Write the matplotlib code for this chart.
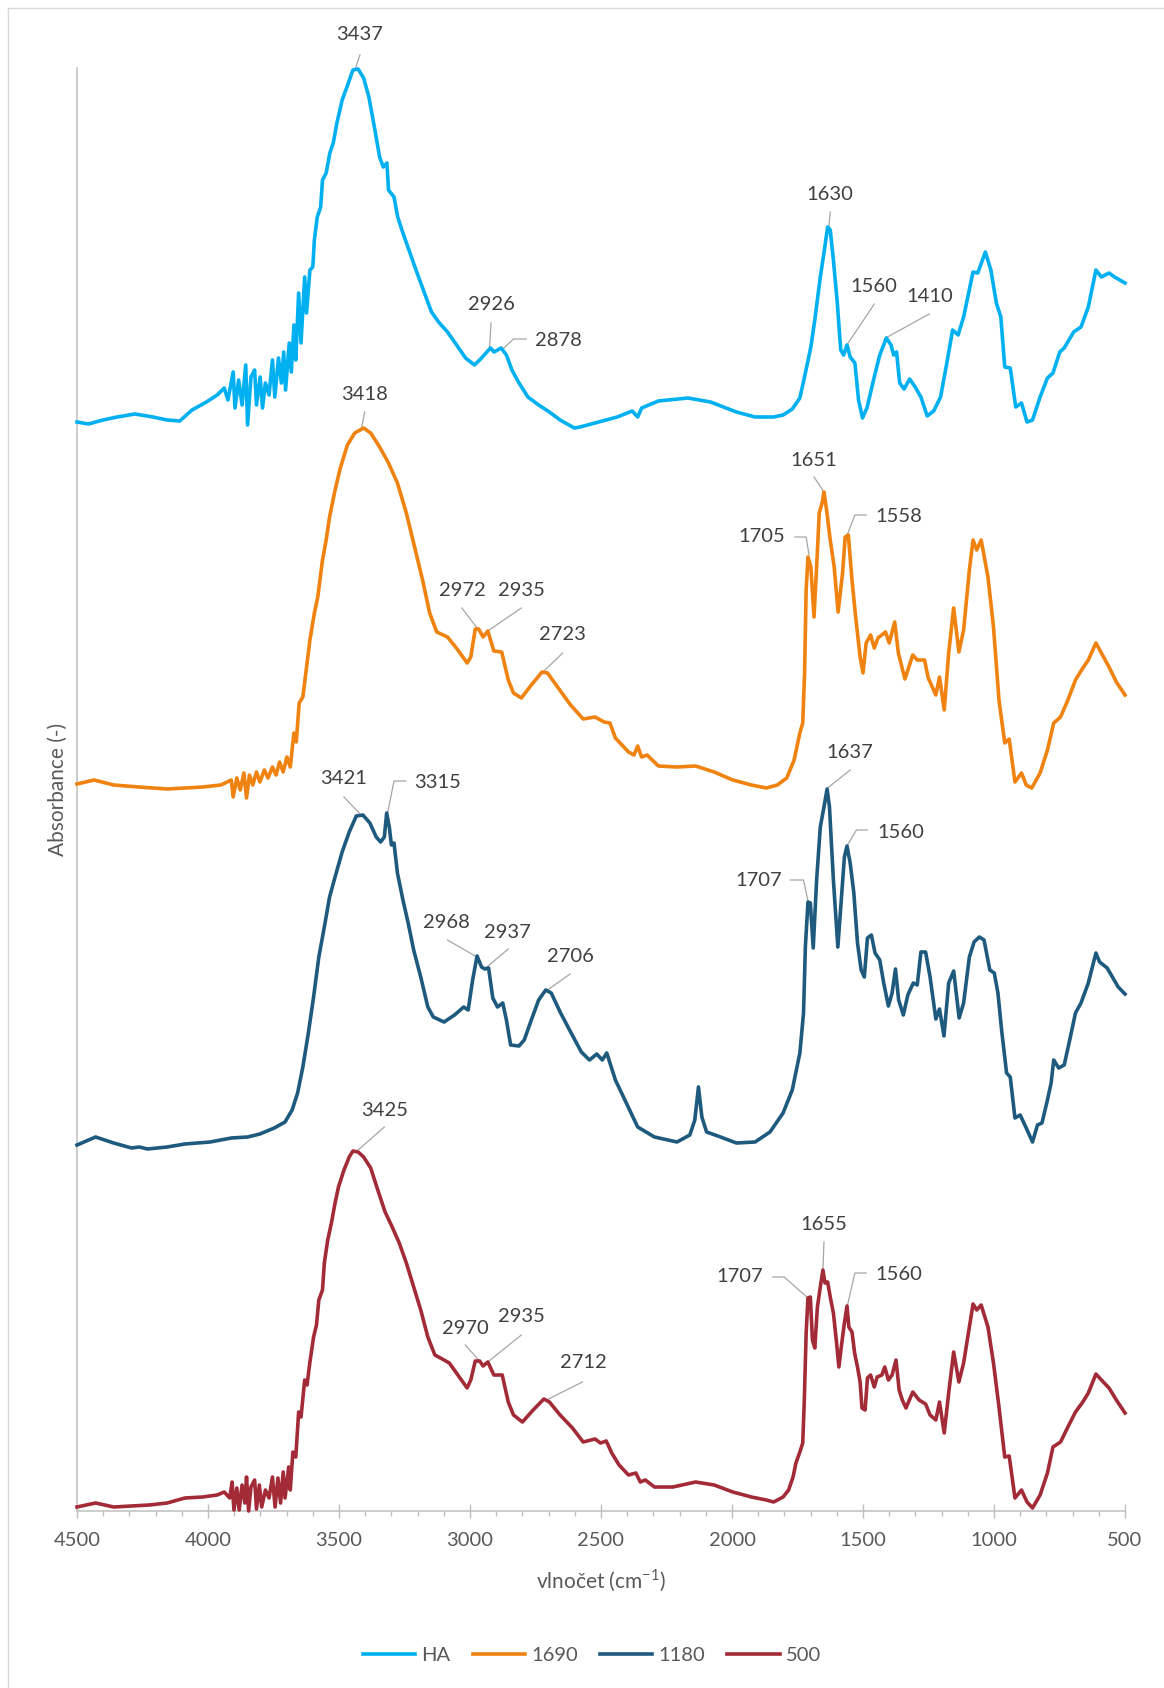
import matplotlib
matplotlib.use("Agg")
import matplotlib.pyplot as plt
from matplotlib.lines import Line2D
from matplotlib.ticker import MultipleLocator

plt.rcParams['font.family'] = ['Lato', 'DejaVu Sans']
plt.rcParams['mathtext.fontset'] = 'custom'
plt.rcParams['mathtext.rm'] = 'Lato'

# ---------------- data (wavenumber cm-1, offset absorbance a.u.) ----------------
series_names = ["HA", "1690", "1180", "500"]

ha_wn = [4500,4456,4401,4347,4279,4210,4156,4108,4061,4006,
         3965,3938,3924,3904,3897,3883,3870,3856,3849,3836,
         3822,3815,3801,3792,3781,3767,3754,3745,3731,3720,
         3711,3704,3690,3682,3672,3665,3654,3645,3631,3624,
         3611,3600,3594,3583,3570,3563,3549,3535,3522,3508,
         3488,3467,3447,3427,3406,3386,3365,3345,3331,3317,
         3311,3290,3276,3256,3229,3202,3174,3147,3120,3086,
         3051,3017,2983,2956,2922,2908,2881,2861,2840,2813,
         2779,2738,2697,2656,2602,
         2580,2509,2438,2381,2360,2345,2281,2168,2082,1983,
         1912,1841,1805,1770,1741,1720,1699,1684,1663,1649,
         1635,1625,1613,1599,1585,1574,1561,1549,1531,1517,
         1502,1485,1457,1436,1411,1393,1383,1372,1360,1343,
         1322,1301,1279,1255,1230,1204,1180,1158,1137,1116,
         1080,1062,1033,1012,991,974,959,938,917,895,
         874,853,824,796,775,749,732,696,668,640,
         611,590,561,540,500]
ha_abs = [1.089,1.087,1.091,1.094,1.097,1.094,1.091,1.090,1.101,1.109,
          1.116,1.123,1.111,1.139,1.103,1.131,1.106,1.146,1.086,1.134,
          1.141,1.106,1.134,1.103,1.128,1.116,1.151,1.114,1.153,1.128,
          1.159,1.121,1.168,1.139,1.186,1.151,1.218,1.168,1.234,1.198,
          1.241,1.244,1.271,1.294,1.304,1.331,1.338,1.358,1.368,1.388,
          1.411,1.426,1.441,1.442,1.433,1.414,1.384,1.354,1.344,1.348,
          1.321,1.314,1.294,1.278,1.258,1.238,1.218,1.199,1.189,1.179,
          1.166,1.153,1.146,1.153,1.163,1.159,1.163,1.156,1.141,1.128,
          1.114,1.106,1.099,1.091,1.083,
          1.084,1.089,1.094,1.100,1.094,1.103,1.110,1.113,1.109,1.099,
          1.094,1.094,1.096,1.102,1.113,1.138,1.164,1.191,1.234,1.258,
          1.284,1.281,1.251,1.211,1.161,1.156,1.166,1.154,1.148,1.111,
          1.093,1.103,1.134,1.156,1.173,1.166,1.156,1.159,1.128,1.122,
          1.132,1.124,1.114,1.095,1.100,1.114,1.148,1.181,1.176,1.194,
          1.239,1.238,1.259,1.241,1.208,1.194,1.144,1.143,1.104,1.108,
          1.089,1.091,1.114,1.133,1.138,1.159,1.163,1.179,1.184,1.204,
          1.241,1.234,1.238,1.234,1.228]

s1690_wn = [4500,4435,4360,4265,4156,4020,3951,3911,3904,3890,
            3877,3863,3853,3842,3829,3815,3802,3785,3771,3754,
            3740,3727,3713,3699,3686,3672,3663,3652,3638,3624,
            3611,3594,3581,3563,3549,3536,3515,3495,3468,3440,
            3406,3379,3345,3311,3277,3243,3209,3181,3154,3127,
            3086,3052,3011,2997,2980,2967,2950,2932,2909,2879,
            2854,2834,2804,2766,2725,2704,2663,2616,2568,
            2523,2488,2466,2445,2395,2374,2360,2345,2324,2281,
            2210,2139,2068,1997,1926,1869,1827,1791,1763,1741,
            1730,1723,1717,1710,1699,1687,1677,1667,1656,1649,
            1639,1625,1610,1595,1578,1568,1556,1542,1528,1511,
            1500,1488,1471,1457,1443,1414,1400,1379,1365,1340,
            1310,1293,1265,1251,1222,1208,1190,1173,1154,1134,
            1116,1094,1080,1066,1049,1023,1002,981,959,942,
            920,895,877,856,824,796,772,746,718,689,
            661,640,611,590,561,533,500]
s1690_abs = [0.727,0.731,0.726,0.724,0.722,0.724,0.726,0.731,0.714,0.733,
             0.721,0.738,0.713,0.736,0.726,0.739,0.729,0.741,0.733,0.744,
             0.736,0.749,0.739,0.754,0.744,0.778,0.769,0.808,0.814,0.844,
             0.871,0.898,0.914,0.951,0.971,0.994,1.021,1.043,1.066,1.078,
             1.083,1.078,1.064,1.048,1.028,0.998,0.961,0.931,0.898,0.879,
             0.874,0.863,0.848,0.854,0.882,0.882,0.874,0.880,0.860,0.859,
             0.831,0.818,0.813,0.826,0.839,0.838,0.823,0.806,0.792,
             0.794,0.789,0.788,0.773,0.759,0.756,0.765,0.754,0.756,0.745,
             0.744,0.745,0.739,0.731,0.726,0.723,0.726,0.733,0.751,0.778,
             0.788,0.838,0.921,0.954,0.944,0.894,0.944,0.998,1.008,1.019,
             1.001,0.971,0.944,0.899,0.938,0.974,0.976,0.931,0.894,0.854,
             0.838,0.868,0.876,0.863,0.873,0.879,0.868,0.889,0.858,0.832,
             0.856,0.851,0.851,0.833,0.816,0.834,0.801,0.858,0.903,0.859,
             0.881,0.941,0.971,0.961,0.971,0.934,0.884,0.811,0.768,0.772,
             0.729,0.738,0.726,0.723,0.738,0.761,0.788,0.794,0.811,0.831,
             0.843,0.851,0.868,0.858,0.844,0.829,0.816]

s1180_wn = [4500,4429,4360,4292,4262,4231,4156,4088,3992,3911,
            3849,3802,3747,3706,3679,3658,3638,3617,3597,3577,
            3556,3536,3515,3488,3461,3434,3409,3382,3358,3341,
            3327,3318,3308,3300,3290,3277,3256,3236,3215,3188,
            3161,3140,3099,3059,3024,3007,2990,2973,2956,2943,
            2929,2913,2895,2875,2861,2845,2813,2793,2766,2738,
            2711,2690,2656,2616,2575,
            2544,2516,2495,2478,2445,2409,2360,2296,2210,2161,
            2142,2128,2115,2097,2054,1983,1912,1855,1805,1770,
            1741,1727,1720,1710,1701,1690,1677,1663,1649,1637,
            1628,1613,1596,1582,1571,1561,1549,1535,1521,1507,
            1495,1483,1468,1454,1436,1421,1403,1389,1376,1364,
            1346,1329,1308,1293,1279,1261,1244,1222,1208,1191,
            1173,1154,1133,1116,1094,1076,1056,1038,1016,999,
            985,971,952,938,920,900,877,853,834,817,
            796,782,772,753,732,711,689,668,640,611,
            597,568,526,500]
s1180_abs = [0.366,0.374,0.368,0.363,0.364,0.362,0.364,0.367,0.369,0.373,
             0.374,0.377,0.383,0.389,0.401,0.418,0.444,0.478,0.514,0.554,
             0.584,0.614,0.634,0.659,0.679,0.695,0.696,0.688,0.674,0.669,
             0.674,0.698,0.684,0.666,0.668,0.638,0.611,0.588,0.561,0.534,
             0.504,0.494,0.489,0.496,0.504,0.501,0.531,0.555,0.544,0.542,
             0.543,0.513,0.504,0.508,0.491,0.466,0.465,0.471,0.491,0.511,
             0.521,0.518,0.499,0.479,0.459,
             0.451,0.457,0.451,0.458,0.431,0.411,0.384,0.374,0.369,0.376,
             0.391,0.424,0.394,0.379,0.375,0.368,0.369,0.379,0.398,0.421,
             0.458,0.498,0.564,0.609,0.608,0.563,0.631,0.684,0.704,0.722,
             0.704,0.631,0.564,0.614,0.654,0.665,0.648,0.618,0.568,0.541,
             0.534,0.573,0.576,0.558,0.551,0.528,0.505,0.518,0.542,0.511,
             0.496,0.516,0.528,0.526,0.559,0.559,0.534,0.492,0.502,0.475,
             0.528,0.540,0.493,0.508,0.554,0.569,0.574,0.571,0.541,0.538,
             0.518,0.481,0.438,0.434,0.393,0.396,0.383,0.369,0.386,0.388,
             0.411,0.428,0.451,0.443,0.446,0.471,0.498,0.508,0.528,0.558,
             0.549,0.543,0.524,0.517]

s500_wn = [4500,4429,4360,4292,4224,4156,4088,4020,3965,3938,
           3917,3908,3901,3890,3881,3870,3859,3853,3845,3836,
           3822,3815,3804,3795,3781,3767,3754,3744,3733,3723,
           3713,3706,3692,3686,3676,3665,3654,3645,3631,3622,
           3611,3597,3586,3577,3563,3556,3543,3529,3515,3502,
           3481,3461,3447,3427,3406,3379,3352,3324,3297,3270,
           3243,3215,3188,3161,3134,3099,3079,3052,3011,2997,
           2980,2963,2950,2932,2909,2877,2854,2834,2800,2759,
           2718,2697,2656,2609,2568,
           2523,2502,2480,2459,2431,2395,2367,2350,2331,2296,
           2225,2139,2068,1997,1926,1869,1841,1805,1784,1767,
           1756,1741,1730,1724,1717,1710,1701,1693,1684,1674,
           1663,1653,1645,1635,1625,1613,1602,1592,1581,1571,
           1561,1554,1542,1532,1521,1511,1504,1492,1483,1471,
           1457,1446,1428,1417,1403,1389,1374,1362,1350,1336,
           1310,1286,1261,1244,1222,1208,1190,1173,1154,1134,
           1116,1094,1080,1066,1049,1023,1002,981,959,942,
           920,895,874,853,824,796,775,746,718,689,
           661,640,611,590,561,533,500]
s500_abs = [0.004,0.008,0.004,0.005,0.006,0.008,0.013,0.014,0.016,0.019,
            0.013,0.029,0.001,0.023,0.001,0.026,0.008,0.034,0.000,0.024,
            0.031,0.002,0.026,0.004,0.021,0.013,0.034,0.004,0.033,0.008,
            0.039,0.013,0.044,0.021,0.059,0.054,0.099,0.094,0.131,0.126,
            0.149,0.174,0.186,0.211,0.221,0.248,0.271,0.288,0.308,0.324,
            0.341,0.354,0.360,0.359,0.354,0.343,0.321,0.299,0.284,0.268,
            0.248,0.224,0.201,0.174,0.156,0.151,0.148,0.138,0.123,0.131,
            0.150,0.150,0.145,0.149,0.136,0.136,0.109,0.096,0.089,0.101,
            0.112,0.109,0.096,0.083,0.069,
            0.072,0.068,0.070,0.058,0.046,0.036,0.038,0.029,0.031,0.024,
            0.024,0.029,0.026,0.019,0.014,0.011,0.009,0.014,0.021,0.034,
            0.048,0.059,0.068,0.111,0.178,0.213,0.214,0.171,0.163,0.204,
            0.224,0.241,0.228,0.229,0.214,0.198,0.171,0.144,0.168,0.188,
            0.205,0.184,0.179,0.158,0.144,0.129,0.103,0.101,0.133,0.136,
            0.124,0.134,0.136,0.144,0.131,0.136,0.151,0.121,0.111,0.103,
            0.119,0.111,0.107,0.096,0.091,0.109,0.078,0.118,0.159,0.129,
            0.148,0.184,0.207,0.201,0.206,0.184,0.148,0.104,0.054,0.055,
            0.013,0.021,0.009,0.003,0.016,0.038,0.064,0.069,0.084,0.099,
            0.109,0.118,0.137,0.131,0.123,0.111,0.098]

# peak labels: (text, text position wn/abs, leader line wn list, abs list)
peak_labels = [
    ("3437", 3420, 1.476, [3420, 3437], [1.456, 1.443]),
    ("2926", 2920, 1.206, [2920, 2925], [1.188, 1.164]),
    ("2878", 2663, 1.171, [2786, 2834, 2874], [1.172, 1.172, 1.162]),
    ("1630", 1625, 1.316, [1625, 1630], [1.299, 1.285]),
    ("1560", 1457, 1.224, [1457, 1559], [1.207, 1.167]),
    ("1410", 1247, 1.214, [1247, 1407], [1.197, 1.174]),
    ("3418", 3402, 1.117, [3402, 3413], [1.099, 1.084]),
    ("2972", 3031, 0.920, [3031, 2973], [0.903, 0.883]),
    ("2935", 2804, 0.920, [2804, 2932], [0.903, 0.880]),
    ("2723", 2646, 0.876, [2646, 2722], [0.858, 0.839]),
    ("1651", 1687, 1.050, [1687, 1649], [1.034, 1.019]),
    ("1705", 1886, 0.974, [1760, 1717, 1706], [0.974, 0.974, 0.956]),
    ("1558", 1365, 0.995, [1488, 1531, 1559], [0.996, 0.996, 0.977]),
    ("3421", 3481, 0.732, [3481, 3423], [0.714, 0.698]),
    ("3315", 3123, 0.729, [3245, 3290, 3314], [0.730, 0.730, 0.699]),
    ("2968", 3090, 0.589, [3086, 2973], [0.571, 0.554]),
    ("2937", 2857, 0.579, [2854, 2936], [0.562, 0.544]),
    ("2706", 2618, 0.555, [2618, 2704], [0.537, 0.521]),
    ("1637", 1549, 0.758, [1549, 1635], [0.741, 0.723]),
    ("1707", 1898, 0.630, [1777, 1727, 1710], [0.631, 0.631, 0.610]),
    ("1560", 1355, 0.679, [1483, 1525, 1559], [0.681, 0.681, 0.666]),
    ("3425", 3327, 0.401, [3327, 3427], [0.384, 0.361]),
    ("2970", 3018, 0.183, [3018, 2967], [0.166, 0.151]),
    ("2935", 2804, 0.194, [2804, 2932], [0.176, 0.149]),
    ("2712", 2568, 0.148, [2571, 2708], [0.129, 0.111]),
    ("1655", 1649, 0.287, [1649, 1653], [0.269, 0.241]),
    ("1707", 1969, 0.234, [1844, 1801, 1710], [0.234, 0.234, 0.213]),
    ("1560", 1365, 0.236, [1488, 1531, 1559], [0.238, 0.238, 0.206]),
]

x_ticks = [4500, 4000, 3500, 3000, 2500, 2000, 1500, 1000, 500]

# ---------------- figure ----------------
W, H = 1164, 1688
fig = plt.figure(figsize=(W / 100, H / 100), dpi=100)
ax = fig.add_axes([77 / W, 1 - 1511 / H, 1048 / W, (1511 - 68) / H])

colors = ["#00B0F0", "#F0820F", "#1D5A7E", "#A32A37"]
lw = 2.6
data = [(ha_wn, ha_abs), (s1690_wn, s1690_abs), (s1180_wn, s1180_abs), (s500_wn, s500_abs)]
handles = []
for (wn, ab), c, name in zip(data, colors, series_names):
    h, = ax.plot(wn, ab, color=c, lw=lw, solid_joinstyle='round', clip_on=False, label=name, zorder=3)
    handles.append(h)

ax.set_xlim(4500, 500)
ax.set_ylim(0, 1.443)

for lab, tw, ta, lx, ly in peak_labels:
    ax.plot(lx, ly, color="#A6A6A6", lw=0.9, clip_on=False, zorder=2)
    ax.text(tw, ta, lab, ha="center", va="center", fontsize=14.5, color="#404040", clip_on=False)

for s in ["top", "right"]:
    ax.spines[s].set_visible(False)
for s in ["left", "bottom"]:
    ax.spines[s].set_color("#BFBFBF")
    ax.spines[s].set_linewidth(1.1)
ax.set_yticks([])
ax.set_xticks(x_ticks)
ax.xaxis.set_minor_locator(MultipleLocator(100))
ax.tick_params(axis="x", which="major", direction="inout", length=9.5, width=1.0,
               color="#BFBFBF", labelsize=14.5, labelcolor="#595959", pad=10.5)
ax.tick_params(axis="x", which="minor", direction="out", length=3.5, width=1.0, color="#BFBFBF")

fig.text(58 / W, 1 - 789 / H, "Absorbance (-)", rotation=90, ha="center", va="center",
         fontsize=15, color="#595959")
fig.text(601 / W, 1 - 1581 / H, r"vlnočet (cm$^{\mathregular{-1}}$)", ha="center", va="center",
         fontsize=15, color="#595959")

fig.legend(handles=handles, loc="center", bbox_to_anchor=(592 / W, 1 - 1655 / H),
           ncol=4, frameon=False, handlelength=2.6, handletextpad=0.3, columnspacing=1.1,
           fontsize=14.5, labelcolor="#595959")

# outer chart frame (light grey)
fig.add_artist(Line2D([7.5 / W, 7.5 / W], [0, 1 - 7.5 / H], transform=fig.transFigure, color="#D9D9D9", lw=1))
fig.add_artist(Line2D([7.5 / W, 1], [1 - 7.5 / H, 1 - 7.5 / H], transform=fig.transFigure, color="#D9D9D9", lw=1))

fig.savefig("out.png", dpi=100, facecolor="white")
